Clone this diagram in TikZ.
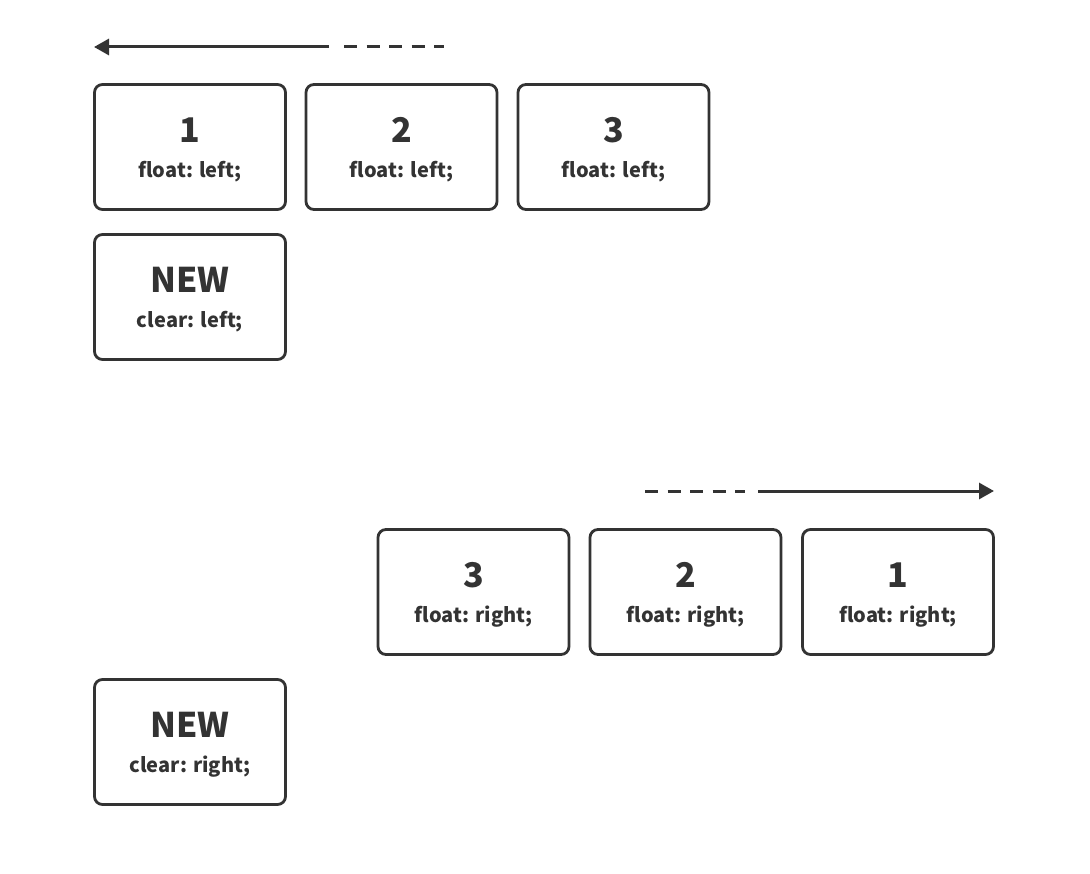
\documentclass[tikz,border=0pt]{standalone}
\usepackage{fontspec}
\setmainfont{Noto Sans CJK SC}
\usetikzlibrary{arrows.meta}
\definecolor{ink}{HTML}{333333}
\begin{document}
\begin{tikzpicture}[x=1pt,y=-1pt,
  box/.style={draw=ink,line width=2.8pt,rounded corners=8pt,minimum width=191pt,minimum height=125pt,inner sep=0pt},
  big/.style={text=ink,font=\bfseries\fontsize{34}{36}\selectfont,inner sep=0pt},
  small/.style={text=ink,font=\bfseries\fontsize{20}{22}\selectfont,inner sep=0pt},
  line/.style={draw=ink,line width=3pt},
  arr/.style={line,-{Triangle[length=15pt,width=16pt]}},
  dsh/.style={line,dash pattern=on 13pt off 9.5pt}]
\useasboundingbox (0,0) rectangle (1090,874);
% top row
\node[box] (a1) at (190,147) {};
\node[box] (a2) at (401.5,147) {};
\node[box] (a3) at (613.5,147) {};
\node[box] (a4) at (190,297) {};
\foreach \b/\n/\t in {a1/1/float: left;,a2/2/float: left;,a3/3/float: left;,a4/NEW/clear: left;}{
  \node[big] (\b n) at ([yshift=17pt]\b.center) {\n};
  \node[small] (\b t) at ([yshift=-24.5pt]\b.center) {\t};
}
% bottom row
\node[box] (b3) at (473.5,592) {};
\node[box] (b2) at (685.5,592) {};
\node[box] (b1) at (898,592) {};
\node[box] (b4) at (190,742) {};
\foreach \b/\n/\t in {b1/1/float: right;,b2/2/float: right;,b3/3/float: right;,b4/NEW/clear: right;}{
  \node[big] (\b n) at ([yshift=17pt]\b.center) {\n};
  \node[small] (\b t) at ([yshift=-24.5pt]\b.center) {\t};
}
% arrows
\coordinate (ta) at (94,47);
\coordinate (tb) at (329,47);
\coordinate (tc) at (344,47);
\coordinate (td) at (444,47);
\draw[arr] (tb) -- (ta);
\draw[dsh] (tc) -- (td);
\coordinate (ba) at (645,491);
\coordinate (bb) at (745,491);
\coordinate (bc) at (758,491);
\coordinate (bd) at (994,491);
\draw[dsh] (ba) -- (bb);
\draw[arr] (bc) -- (bd);
\end{tikzpicture}
\end{document}
